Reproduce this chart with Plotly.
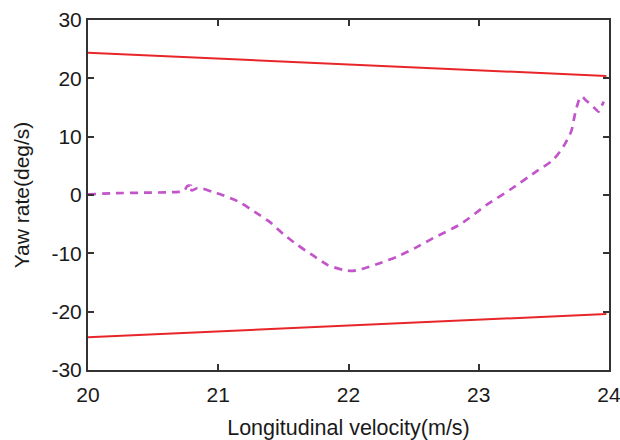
import plotly.graph_objects as go

# Bounds (red lines)
bound_v = [20.0, 23.98]
upper_r = [24.4, 20.4]
lower_r = [-24.4, -20.4]

# Yaw rate trajectory (magenta dashed)
traj_v = [20.00, 20.19, 20.45, 20.60, 20.70, 20.74, 20.76, 20.79, 20.77, 20.80, 20.84,
          20.88, 20.91, 20.96, 21.03, 21.10, 21.17, 21.28, 21.40, 21.50, 21.61, 21.73,
          21.84, 21.97, 22.03, 22.10, 22.24, 22.37, 22.51, 22.65, 22.86, 23.06, 23.24,
          23.44, 23.57, 23.65, 23.71, 23.74, 23.77, 23.79, 23.82, 23.88, 23.92, 23.94,
          23.96]
traj_r = [0.1, 0.3, 0.4, 0.46, 0.55, 0.7, 1.5, 1.6, 1.1, 0.8, 1.2,
          1.1, 0.9, 0.5, 0.0, -0.6, -1.3, -2.9, -4.7, -6.7, -8.6, -10.4,
          -12.0, -12.9, -13.0, -12.7, -11.7, -10.6, -9.1, -7.4, -5.0, -1.7, 0.9,
          4.0, 6.0, 8.3, 10.9, 14.0, 16.3, 16.9, 16.3, 15.1, 14.3, 15.1,
          16.0]

x_ticks = [20, 21, 22, 23, 24]
y_ticks = [-30, -20, -10, 0, 10, 20, 30]

red = "#e8262a"
mag = "#c155c9"

fig = go.Figure()
fig.add_trace(go.Scatter(x=bound_v, y=upper_r, mode="lines",
                         line=dict(color=red, width=2), showlegend=False))
fig.add_trace(go.Scatter(x=bound_v, y=lower_r, mode="lines",
                         line=dict(color=red, width=2), showlegend=False))
fig.add_trace(go.Scatter(x=traj_v, y=traj_r, mode="lines",
                         line=dict(color=mag, width=2.7, dash="8px,6px", shape="spline", smoothing=0.6),
                         showlegend=False))

font_family = "Liberation Sans, Arial, sans-serif"
axis_common = dict(
    showgrid=False, zeroline=False, automargin=False,
    showline=True, linecolor="#333333", linewidth=2, mirror="ticks",
    ticks="inside", ticklen=6, tickwidth=1.5, tickcolor="#333333",
    ticklabeloverflow="allow",
    tickfont=dict(family=font_family, size=21, color="#1a1a1a"),
)

fig.update_layout(
    width=620, height=440,
    margin=dict(l=88, r=11, t=20, b=70),
    paper_bgcolor="white", plot_bgcolor="white",
    xaxis=dict(range=[20, 24], tickvals=x_ticks, ticktext=[str(t) for t in x_ticks],
               ticklabelstandoff=5,
               title=dict(text="Longitudinal velocity(m/s)", standoff=20,
                          font=dict(family=font_family, size=21.5, color="#1a1a1a")),
               **axis_common),
    yaxis=dict(range=[-30, 30], tickvals=y_ticks, ticktext=[str(t) for t in y_ticks],
               title=dict(text="Yaw rate(deg/s)", standoff=16,
                          font=dict(family=font_family, size=21, color="#1a1a1a")),
               **axis_common),
)

fig.write_html("out.html")
